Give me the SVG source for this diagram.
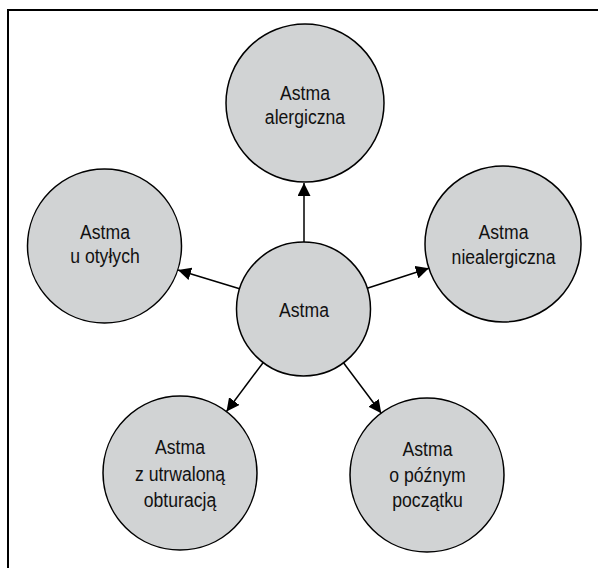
<svg xmlns="http://www.w3.org/2000/svg" width="598" height="568" viewBox="0 0 598 568">
<style>
.node circle{fill:#d1d3d4;stroke:#000;stroke-width:1.5}
.node text{font-family:"Liberation Sans",Arial,sans-serif;font-size:21px;fill:#111;text-anchor:middle}
.conn line{stroke:#000;stroke-width:1.5}
.frame{stroke:#000;stroke-width:2;fill:none}
</style>
<defs>
<marker id="arr" markerUnits="userSpaceOnUse" markerWidth="13" markerHeight="13" viewBox="0 0 12 12" refX="12" refY="6" orient="auto">
<path d="M0,0 L12,6 L0,12 Z" fill="#000"/>
</marker>
</defs>
<rect width="598" height="568" fill="#fff"/>
<path class="frame" d="M8,568 V10 H598"/>
<g id="connectors" class="conn">
<line x1="304" y1="242" x2="304" y2="183" marker-end="url(#arr)"/>
<line x1="367.2" y1="288.2" x2="428.8" y2="268.2" marker-end="url(#arr)"/>
<line x1="239.6" y1="288.8" x2="178" y2="270" marker-end="url(#arr)"/>
<line x1="263.2" y1="362.5" x2="226.5" y2="411.5" marker-end="url(#arr)"/>
<line x1="343.5" y1="362.8" x2="381.3" y2="413.2" marker-end="url(#arr)"/>
</g>
<g id="n-astma" class="node">
<circle cx="303.5" cy="309" r="67"/>
<text transform="translate(304 316.5) scale(0.84 1)">Astma</text>
</g>
<g id="n-alergiczna" class="node">
<circle cx="305" cy="103" r="79"/>
<text transform="translate(305 100) scale(0.84 1)">Astma</text>
<text transform="translate(305 123.5) scale(0.84 1)">alergiczna</text>
</g>
<g id="n-otylych" class="node">
<circle cx="104.5" cy="246" r="77"/>
<text transform="translate(105 238.5) scale(0.84 1)">Astma</text>
<text transform="translate(105 262.5) scale(0.84 1)">u otyłych</text>
</g>
<g id="n-niealergiczna" class="node">
<circle cx="503" cy="244" r="78"/>
<text transform="translate(503.5 239) scale(0.84 1)">Astma</text>
<text transform="translate(503.5 264) scale(0.84 1)">niealergiczna</text>
</g>
<g id="n-obturacja" class="node">
<circle cx="180" cy="473" r="77"/>
<text transform="translate(180 453.5) scale(0.84 1)">Astma</text>
<text transform="translate(180 480.5) scale(0.84 1)">z utrwaloną</text>
<text transform="translate(180 506.5) scale(0.84 1)">obturacją</text>
</g>
<g id="n-pozny" class="node">
<circle cx="427" cy="475" r="77"/>
<text transform="translate(427.5 455.5) scale(0.84 1)">Astma</text>
<text transform="translate(427.5 481.5) scale(0.84 1)">o późnym</text>
<text transform="translate(427.5 506.5) scale(0.84 1)">początku</text>
</g>
</svg>
